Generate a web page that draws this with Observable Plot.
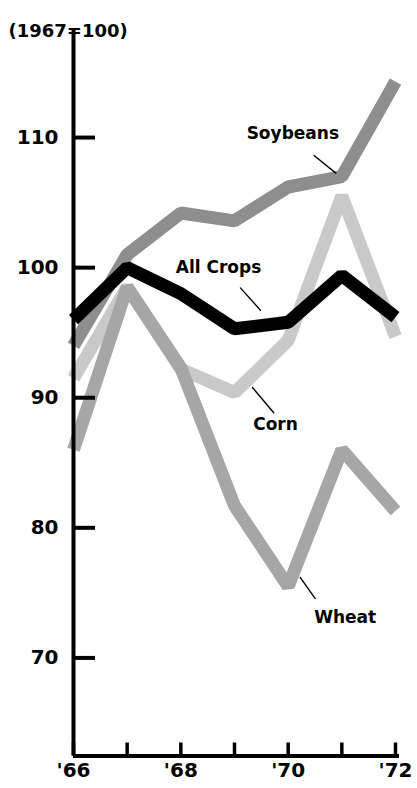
<!DOCTYPE html>
<html><head><meta charset="utf-8">
<script src="https://cdn.jsdelivr.net/npm/d3@7"></script>
<script src="https://cdn.jsdelivr.net/npm/@observablehq/plot@0.6"></script>
<style>
body{margin:0;background:#fff;}
g[aria-label="series label"] text{letter-spacing:1px;}
</style></head><body><div id="chart"></div>
<script>
// Data (index, 1967=100)
const years = [66, 67, 68, 69, 70, 71, 72];
const allCrops = [96, 100, 98, 95.3, 95.8, 99.4, 96.2];
const soybeans = [94, 101, 104.2, 103.6, 106.2, 107, 114.3];
const corn = [91.5, 98.5, 92.2, 90.4, 94.4, 105.5, 94.7];
const wheat = [86, 98.5, 92.3, 81.7, 75.5, 86, 81.3];
const yTicks = [70, 80, 90, 100, 110];
const seriesNames = ["Corn", "Wheat", "Soybeans", "All Crops"];
const seriesValues = [corn, wheat, soybeans, allCrops];
const title = "(1967=100)";

const table = seriesNames.flatMap((name, i) =>
  years.map((year, j) => ({name, year, value: seriesValues[i][j]})));

const leader = {draw(ctx, l) { ctx.moveTo(0, 0); ctx.lineTo(0, -l); }};
const font = "DejaVu Sans";

function label(text, values, idx, dx, dy) {
  return Plot.text([text], {x: [years[idx]], y: [values[idx]], dx, dy,
    fontSize: 17, fontWeight: "bold", fill: "black", ariaLabel: "series label"});
}
function lead(values, idx, dx, dy, length, rotate) {
  return Plot.vector([0], {x: [years[idx]], y: [values[idx]], dx, dy, length, rotate,
    anchor: "start", shape: leader, stroke: "black", strokeWidth: 1.4});
}

const chart = Plot.plot({
  width: 417, height: 788,
  marginLeft: 73, marginRight: 22, marginTop: 30, marginBottom: 32.5,
  style: {fontFamily: font, background: "white", color: "black"},
  x: {domain: [66, 72], axis: null},
  y: {domain: [62.46, 118.23], axis: null},
  color: {domain: seriesNames, range: ["#c9c9c9", "#a6a6a6", "#8e8e8e", "#000000"]},
  marks: [
    Plot.lineY(table, {x: "year", y: "value", z: "name", stroke: "name",
      strokeWidth: 13, strokeLinejoin: "miter", strokeLinecap: "butt", curve: "linear"}),
    Plot.ruleX([66], {stroke: "black", strokeWidth: 4}),
    Plot.ruleY([62.46], {stroke: "black", strokeWidth: 4, insetRight: -4}),
    Plot.axisY({ticks: yTicks, tickSize: -22, tickPadding: 37, strokeWidth: 4,
      fontSize: 20, fontWeight: "bold", tickFormat: d => String(d), label: null}),
    Plot.axisX({ticks: years, tickSize: -13, tickPadding: 19.5, strokeWidth: 3.5,
      fontSize: 20, fontWeight: "bold", label: null,
      tickFormat: d => d % 2 === 0 ? "'" + d : ""}),
    Plot.text([title], {frameAnchor: "top-left", dx: -65, dy: -6, textAnchor: "start",
      fontSize: 18, fontWeight: "bold", fill: "black", ariaLabel: "title"}),
    label("Soybeans", soybeans, 5, -49, -43),
    label("All Crops", allCrops, 3, -16, -61),
    label("Corn", corn, 3, 41, 32),
    label("Wheat", wheat, 4, 57, 31),
    lead(soybeans, 5, -6, -3.5, 28, -51),
    lead(allCrops, 3, 26, -18.6, 30, -42),
    lead(corn, 3, 18, -5, 33, 140),
    lead(wheat, 4, 12, -9, 26, 144.5)
  ]
});
document.getElementById("chart").append(chart);
</script></body></html>
